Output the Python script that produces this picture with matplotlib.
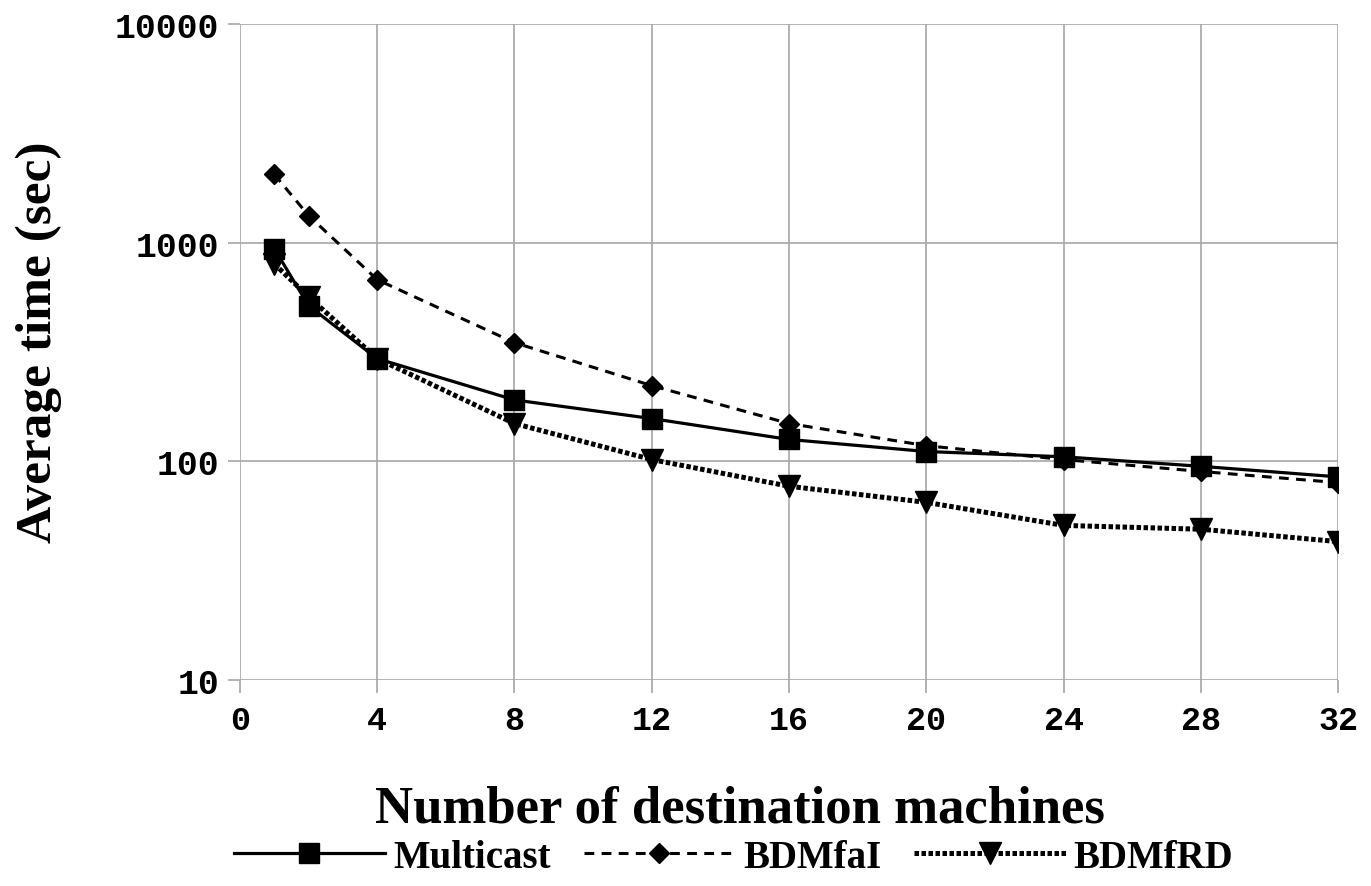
import numpy as np
import matplotlib.pyplot as plt
from matplotlib.ticker import FixedLocator, FixedFormatter, NullLocator

# values (log scale)
machines = [1, 2, 4, 8, 12, 16, 20, 24, 28, 32]
multicast = [940, 515, 295, 191, 157, 126, 111, 105, 95, 85]
bdmfai = [2050, 1330, 677, 349, 222, 149, 118, 102, 90, 80]
bdmfrd = [800, 566, 295, 149, 102, 77, 65, 51, 49, 43]

x_ticks = [0, 4, 8, 12, 16, 20, 24, 28, 32]
y_ticks = [10, 100, 1000, 10000]
y_labels = ["10", "100", "1000", "10000"]

SERIF = "Liberation Serif"
MONO = "Liberation Mono"
GRID = "#a6a6a6"

fig = plt.figure(figsize=(13.71, 8.87), dpi=100)
ax = fig.add_axes([0.175, 0.232, 0.801, 0.740])

ax.plot(machines, multicast, "-", color="black", lw=2.3,
        marker="s", markersize=14, label="Multicast")
ax.plot(machines, bdmfai, color="black", lw=2.2, ls=(0, (3.2, 2.4)),
        marker="D", markersize=10, label="BDMfaI")
ax.plot(machines, bdmfrd, color="black", lw=3.6, ls=(0, (0.9, 0.5)),
        marker="v", markersize=16, label="BDMfRD")

ax.set_yscale("log")
ax.set_xlim(0, 32)
ax.set_ylim(10, 10000)
ax.set_xticks(x_ticks)
ax.yaxis.set_major_locator(FixedLocator(y_ticks))
ax.yaxis.set_major_formatter(FixedFormatter(y_labels))
ax.yaxis.set_minor_locator(NullLocator())

for s in ax.spines.values():
    s.set_visible(False)
ax.grid(True, color=GRID, lw=1.2)
ax.tick_params(axis="both", color=GRID, length=9, width=1.2)
ax.tick_params(axis="x", pad=9)
ax.tick_params(axis="y", pad=6)

for lab in ax.get_xticklabels():
    lab.set_fontfamily(MONO)
    lab.set_fontweight("bold")
    lab.set_fontsize(24)
for lab in ax.get_yticklabels():
    lab.set_fontfamily(MONO)
    lab.set_fontweight("bold")
    lab.set_fontsize(25)

ax.set_xlabel("Number of destination machines", family=SERIF,
              fontweight="bold", fontsize=38)
ax.xaxis.set_label_coords(0.455, -0.159)
ax.set_ylabel("Average time (sec)", family=SERIF,
              fontweight="bold", fontsize=37)
ax.yaxis.set_label_coords(-0.162, 0.517)

leg = fig.legend(loc="lower center", bbox_to_anchor=(0.535, -0.028), ncol=3,
                 frameon=False, handlelength=3.9, columnspacing=0.85,
                 handletextpad=0.2,
                 prop={"family": SERIF, "weight": "bold", "size": 28})

fig.savefig("out.png", dpi=100)
